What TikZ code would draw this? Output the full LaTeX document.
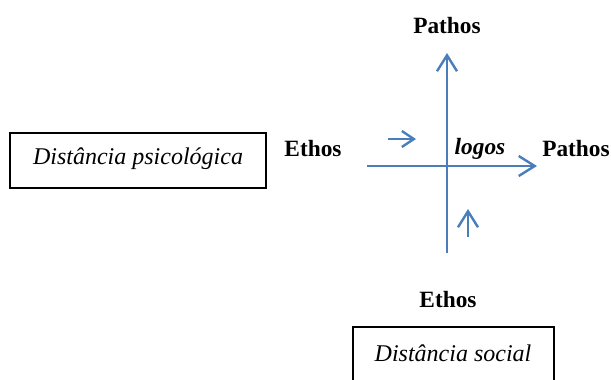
\documentclass[tikz,border=0pt]{standalone}
\usepackage{fontspec}
\setmainfont{Liberation Serif}
\usetikzlibrary{arrows.meta}
\definecolor{axisblue}{HTML}{4A7EBB}
\begin{document}
\begin{tikzpicture}[x=0.75pt,y=-0.75pt,
  axis/.style={draw=axisblue,line width=1.8pt,-{Straight Barb[length=12pt,width=15pt,line width=1.8pt]}},
  smallaxis/.style={draw=axisblue,line width=1.8pt,-{Straight Barb[length=9pt,width=12pt,line width=1.8pt]}},
  lbl/.style={font=\fontsize{17.5}{20}\selectfont\bfseries},
  boxlbl/.style={font=\fontsize{18}{21}\selectfont\itshape}]
\useasboundingbox (0,0) rectangle (611,379);
\clip (0,0) rectangle (611,379);
\coordinate (vb) at (447,253);
\coordinate (vt) at (447,53);
\coordinate (hl) at (367,166);
\coordinate (hr) at (537,166);
\draw[axis] (vb) -- (vt);
\draw[axis] (hl) -- (hr);
\coordinate (s1a) at (388,139);
\coordinate (s1b) at (416,139);
\coordinate (s2a) at (468,237);
\coordinate (s2b) at (468,209);
\draw[smallaxis] (s1a) -- (s1b);
\draw[axis] (s2a) -- (s2b);
\node[lbl] (ptop) at (447,26) {Pathos};
\node[lbl] (pright) at (576,149) {Pathos};
\node[lbl] (eleft) at (313,149) {Ethos};
\node[lbl] (ebot) at (448,300) {Ethos};
\node[font=\fontsize{17.5}{20}\selectfont\bfseries\itshape] (logos) at (480,149) {logos};
\draw[line width=0.8pt] (10,133) rectangle (266,188);
\node[boxlbl] (psi) at (138,159) {Distância psicológica};
\draw[line width=0.8pt] (353,327) rectangle (554,400);
\node[boxlbl] (soc) at (453,353) {Distância social};
\end{tikzpicture}
\end{document}
